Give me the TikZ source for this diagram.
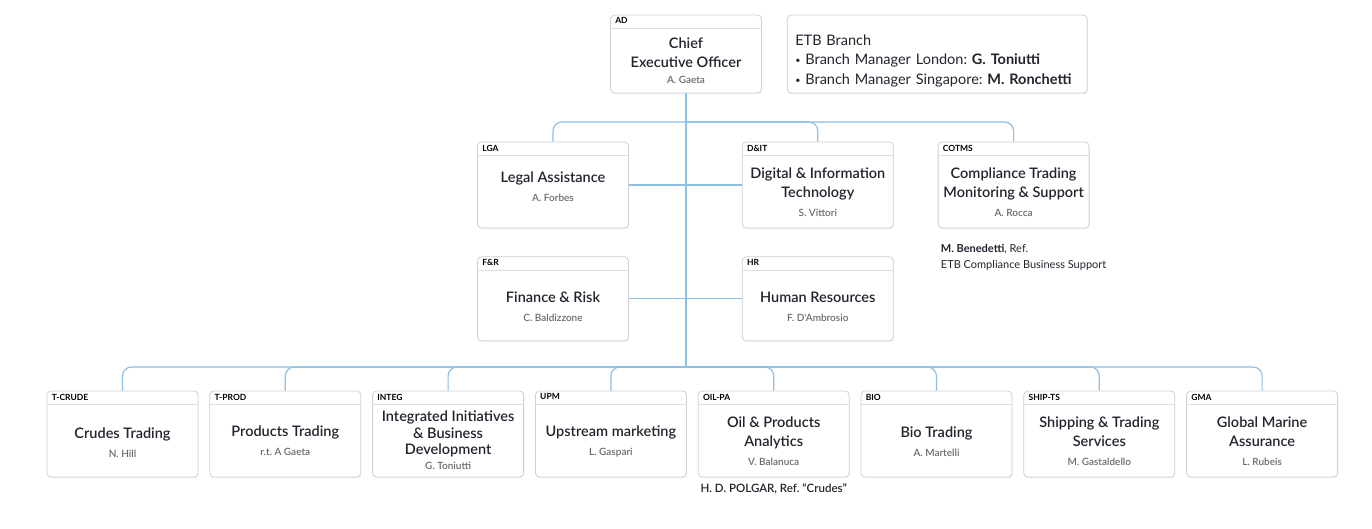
\documentclass[tikz,border=0pt]{standalone}
\usepackage{fontspec}
\setmainfont{Lato}
\newfontfamily\titlefont{Lato Semibold}
\usetikzlibrary{positioning, shadows}
\definecolor{linkBlue}{RGB}{140, 192, 228}
\definecolor{boxGray}{RGB}{208, 208, 212}
\definecolor{titleInk}{RGB}{34, 36, 46}
\definecolor{nameGray}{RGB}{105, 105, 112}
\newcommand{\person}[1]{{\fontsize{10}{12}\selectfont\color{nameGray}#1}}
\frenchspacing

\begin{document}
\begin{tikzpicture}[x=1pt, y=-1pt,
    unit/.style={
      rectangle, draw=boxGray, fill=white, rounded corners=4pt,
      minimum width=151pt, minimum height=86pt, align=center, inner ysep=2pt,
      font=\titlefont\fontsize{14.5}{19}\selectfont, text=titleInk, line width=0.8pt,
      drop shadow={opacity=0.12, shadow xshift=0.4pt, shadow yshift=-1.2pt}
    },
    tag/.style={font=\fontsize{8.5}{10}\selectfont\bfseries, inner sep=1pt, anchor=north west},
    sepline/.style={draw=boxGray!70, line width=0.6pt},
    link/.style={draw=linkBlue, line width=1.2pt},
    note/.style={font=\fontsize{11}{16}\selectfont, text=titleInk, align=left, inner sep=0pt},
  ]
    \path[use as bounding box, fill=white] (0,0) rectangle (1372,528);

    % Top
    \node[unit, minimum height=78pt] (ceo) at (686,54)
      {\mbox{}\\[6pt]Chief\\Executive Officer\\[-3pt]\person{A. Gaeta}};
    \node[unit, right=25pt of ceo, minimum width=300pt, minimum height=78pt,
      text width=284pt, align=left, font=\fontsize{14.5}{19.5}\selectfont]
      (etb) {\mbox{}\\[5pt]ETB Branch\\
        {\small\raisebox{1pt}{\textbullet}}\ Branch Manager London: \textbf{G. Toniutti}\\
        {\small\raisebox{1pt}{\textbullet}}\ Branch Manager Singapore: \textbf{M. Ronchetti}};

    % Staff units
    \node[unit] (lga) at (553,185) {\mbox{}\\[-4pt]Legal Assistance\\\person{A. Forbes}};
    \node[unit, right=113pt of lga] (dit)
      {\mbox{}\\[7pt]Digital \& Information\\Technology\\\person{S. Vittori}};
    \node[unit, right=44pt of dit] (cotms)
      {\mbox{}\\[7pt]Compliance Trading\\Monitoring \& Support\\\person{A. Rocca}};
    \node[unit, below=28pt of lga, minimum height=84pt] (fr)
      {\mbox{}\\[7pt]Finance \& Risk\\\person{C. Baldizzone}};
    \node[unit, below=28pt of dit, minimum height=84pt] (hr)
      {\mbox{}\\[7pt]Human Resources\\\person{F. D'Ambrosio}};

    \node[note, below right=16pt and 3pt of cotms.south west] (benedetti)
      {\textbf{M. Benedetti}, Ref.\\ETB Compliance Business Support};

    % Business units
    \node[unit] (tcrude) at (122.5,434) {\mbox{}\\[9pt]Crudes Trading\\\person{N. Hill}};
    \node[unit, right=11pt of tcrude] (tprod) {\mbox{}\\[5pt]Products Trading\\\person{r.t. A Gaeta}};
    \node[unit, right=11pt of tprod, font=\titlefont\fontsize{14.5}{16.5}\selectfont] (integ)
      {\mbox{}\\[7pt]Integrated Initiatives\\\& Business\\Development\\[-2pt]\person{G. Toniutti}};
    \node[unit, right=11pt of integ] (upm) {\mbox{}\\[7pt]Upstream marketing\\\person{L. Gaspari}};
    \node[unit, right=11pt of upm] (oilpa) {\mbox{}\\[7pt]Oil \& Products\\Analytics\\\person{V. Balanuca}};
    \node[unit, right=11pt of oilpa] (bio) {\mbox{}\\[7pt]Bio Trading\\\person{A. Martelli}};
    \node[unit, right=11pt of bio] (shipts) {\mbox{}\\[7pt]Shipping \& Trading\\Services\\\person{M. Gastaldello}};
    \node[unit, right=11pt of shipts] (gma) {\mbox{}\\[7pt]Global Marine\\Assurance\\\person{L. Rubeis}};

    \node[note, below=6pt of oilpa, font=\titlefont\fontsize{11.5}{13}\selectfont] (polgar)
      {H. D. POLGAR, Ref. “Crudes”};

    % Tags
    \foreach \n/\t in {ceo/AD, lga/LGA, dit/D\&IT, cotms/COTMS, fr/F\&R, hr/HR,
        tcrude/T-CRUDE, tprod/T-PROD, integ/INTEG, upm/UPM, oilpa/OIL-PA,
        bio/BIO, shipts/SHIP-TS, gma/GMA} {
      \node[tag] (\n-tag) at ([xshift=4pt, yshift=-2pt]\n.north west) {\t};
      \draw[sepline] ([yshift=-14pt]\n.north west) -- ([yshift=-14pt]\n.north east);
    }

    % Connectors
    \coordinate (topbus) at (ceo.south |- 0,122);
    \coordinate (botbus) at (ceo.south |- 0,367);
    \draw[link] (ceo) -- (botbus);
    \foreach \n in {lga, dit, cotms}
      \draw[link, rounded corners=9pt] (topbus) -| (\n);
    \draw[link] (lga) -- (dit);
    \draw[link] (fr) -- (hr);
    \foreach \n in {tcrude, tprod, integ, upm, oilpa, bio, shipts, gma}
      \draw[link, rounded corners=9pt] (botbus) -| (\n);
  \end{tikzpicture}
\end{document}
